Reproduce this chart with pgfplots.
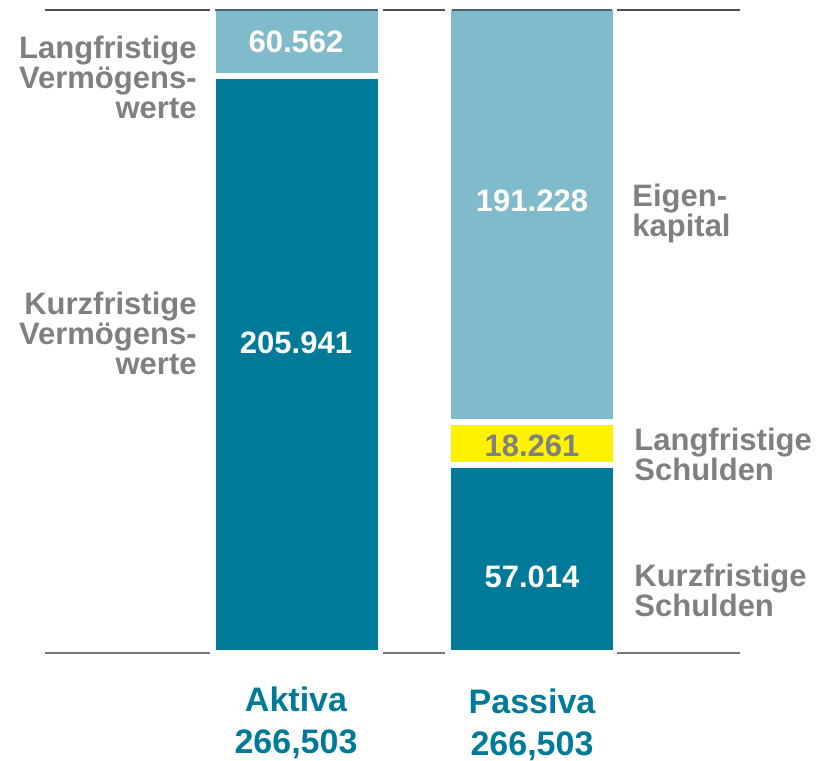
\documentclass[border=0pt]{standalone}
\usepackage{fontspec}
\setmainfont{Liberation Sans}
\usepackage{pgfplots}
\pgfplotsset{compat=1.18}
\definecolor{dkteal}{RGB}{0,122,153}
\definecolor{ltblue}{RGB}{128,187,203}
\definecolor{txtgray}{RGB}{128,128,128}
\definecolor{rulegray}{RGB}{80,80,80}
\definecolor{rulebot}{RGB}{120,120,120}

% y = 653 - pixel row, x = pixel column of the 819x755 reference
\begin{document}
\begin{tikzpicture}[
  lbl/.style={font=\bfseries\fontsize{15.5}{15}\selectfont, text=txtgray, inner sep=0pt},
  val/.style={font=\bfseries\fontsize{15.5}{15}\selectfont, text=white, inner sep=0pt},
  cat/.style={font=\bfseries\fontsize{17}{21}\selectfont, text=dkteal, inner sep=0pt, align=center}]
\begin{axis}[
  scale only axis, width=409.5pt, height=377.5pt,
  xmin=0, xmax=819, ymin=-102, ymax=653,
  hide axis, clip=false,
  ybar stacked, bar width=168,
  every axis plot/.append style={draw=white, line width=3pt}]
  \path (axis cs:0,-102) rectangle (axis cs:819,653);
  % bar segments (visual heights)
  \addplot[fill=dkteal] coordinates {(296.5,576.5) (532,188)};
  \addplot[fill=yellow] coordinates {(296.5,0) (532,43)};
  \addplot[fill=ltblue] coordinates {(296.5,69.5) (532,415)};
  % reference points for the overlay
  \coordinate (t1) at (axis cs:45,643);  \coordinate (t2) at (axis cs:210,643);
  \coordinate (t3) at (axis cs:215,643); \coordinate (t4) at (axis cs:378,643);
  \coordinate (t5) at (axis cs:383,643); \coordinate (t6) at (axis cs:445,643);
  \coordinate (t7) at (axis cs:452,643); \coordinate (t8) at (axis cs:612,643);
  \coordinate (t9) at (axis cs:617,643); \coordinate (t10) at (axis cs:740,643);
  \coordinate (b1) at (axis cs:45,0);  \coordinate (b2) at (axis cs:210,0);
  \coordinate (b5) at (axis cs:383,0); \coordinate (b6) at (axis cs:445,0);
  \coordinate (b9) at (axis cs:617,0); \coordinate (b10) at (axis cs:740,0);
  \coordinate (v1) at (axis cs:296,611);
  \coordinate (v2) at (axis cs:296,310);
  \coordinate (v3) at (axis cs:532,452);
  \coordinate (v4) at (axis cs:532,207);
  \coordinate (v5) at (axis cs:532,76);
  \coordinate (l1) at (axis cs:197,576);
  \coordinate (l2) at (axis cs:197,320);
  \coordinate (l3) at (axis cs:632,440);
  \coordinate (l4) at (axis cs:634,199);
  \coordinate (l5) at (axis cs:634,63);
  \coordinate (c1) at (axis cs:296,-70);
  \coordinate (c2) at (axis cs:532,-72);
\end{axis}
% rules
\draw[rulegray, line width=1pt] (t1) -- (t2) (t5) -- (t6) (t9) -- (t10);
\draw[black!45!ltblue, line width=1pt] (t3) -- (t4) (t7) -- (t8);
\draw[rulebot, line width=1pt] (b1) -- (b2) (b5) -- (b6) (b9) -- (b10);
% values
\node[val] at (v1) {60.562};
\node[val] at (v2) {205.941};
\node[val] at (v3) {191.228};
\node[val, text=txtgray] at (v4) {18.261};
\node[val] at (v5) {57.014};
% side labels
\node[lbl, anchor=east, align=right] at (l1) {Langfristige\\Vermögens-\\werte};
\node[lbl, anchor=east, align=right] at (l2) {Kurzfristige\\Vermögens-\\werte};
\node[lbl, anchor=west, align=left] at (l3) {Eigen-\\kapital};
\node[lbl, anchor=west, align=left] at (l4) {Langfristige\\Schulden};
\node[lbl, anchor=west, align=left] at (l5) {Kurzfristige\\Schulden};
% categories
\node[cat] at (c1) {Aktiva\\266,503};
\node[cat] at (c2) {Passiva\\266,503};
\end{tikzpicture}
\end{document}
